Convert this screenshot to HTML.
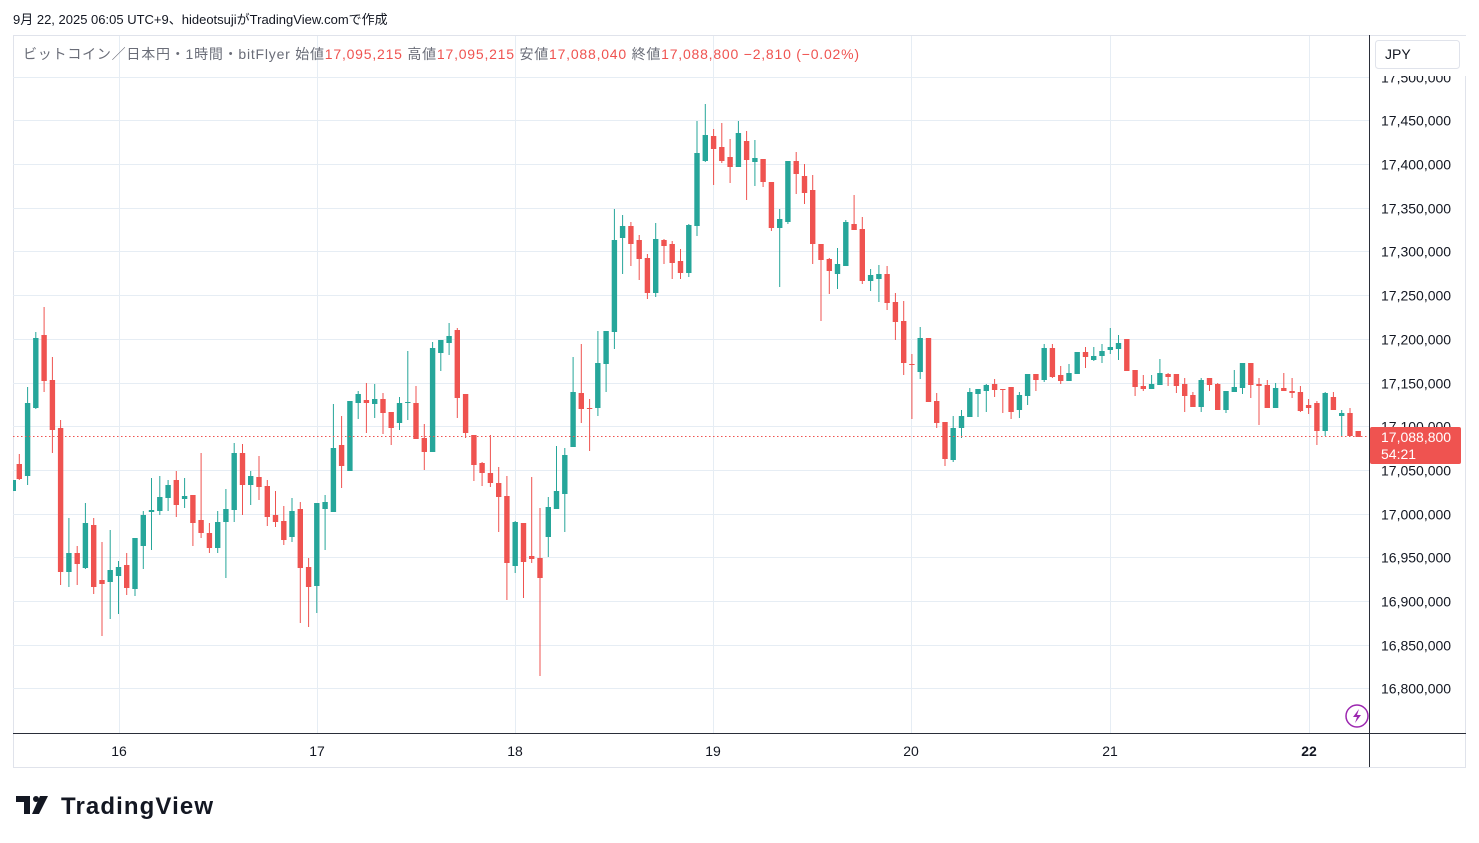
<!DOCTYPE html>
<html><head><meta charset="utf-8"><style>
body{margin:0;background:#fff;width:1479px;height:843px;overflow:hidden;font-family:"Liberation Sans","Noto Sans CJK JP",sans-serif;}
</style></head><body>
<svg id="s" width="1479" height="843" xmlns="http://www.w3.org/2000/svg" style="position:absolute;left:0;top:0">
<text x="13" y="24" font-size="13" fill="#131722" font-family="Liberation Sans, Noto Sans CJK JP, sans-serif">9月 22, 2025 06:05 UTC+9、hideotsujiがTradingView.comで作成</text>
<rect x="13.5" y="35.5" width="1452" height="732" fill="none" stroke="#e0e3eb"/>
<g id="grid" stroke="#e6edf4" stroke-width="1"></g>
<defs><clipPath id="cp"><rect x="13" y="36" width="1356" height="697"/></clipPath></defs>
<g id="c" clip-path="url(#cp)"></g>
<line x1="13" y1="436.5" x2="1369" y2="436.5" stroke="#ef5350" stroke-dasharray="1.5,2.5"/>
<line x1="1369.5" y1="35" x2="1369.5" y2="767" stroke="#2a2e39"/>
<line x1="13" y1="733.5" x2="1466" y2="733.5" stroke="#2a2e39"/>
<g id="pl" font-size="14" fill="#131722"></g>
<g font-size="14" fill="#131722" text-anchor="middle">
<text x="119" y="756">16</text><text x="317" y="756">17</text><text x="515" y="756">18</text><text x="713" y="756">19</text><text x="911" y="756">20</text><text x="1110" y="756">21</text><text x="1309" y="756" font-weight="bold">22</text>
</g>
<rect x="1370" y="36" width="96" height="40" fill="#fff"/>
<rect x="1375.5" y="40.5" width="84" height="28" rx="3" fill="#fff" stroke="#e0e3eb"/>
<text x="1385" y="59" font-size="14" fill="#131722">JPY</text>
<rect x="1370" y="427" width="91" height="37" rx="2" fill="#ef5350"/>
<text x="1381" y="442" font-size="14" fill="#fff">17,088,800</text>
<text x="1381" y="459" font-size="14" fill="#fff">54:21</text>
<circle cx="1357" cy="716" r="11" fill="#fff" stroke="#9c27b0" stroke-width="1.5"/>
<path d="M1359 709 L1353 717 L1357 717 L1355 723 L1361 715 L1357 715 Z" fill="#9c27b0"/>
<text x="23" y="59" font-size="14" textLength="836" lengthAdjust="spacing" font-family="Liberation Sans, Noto Sans CJK JP, sans-serif"><tspan fill="#6a6d78">ビットコイン／日本円・1時間・bitFlyer </tspan><tspan fill="#6a6d78"> 始値</tspan><tspan fill="#ef5350">17,095,215</tspan><tspan fill="#6a6d78">  高値</tspan><tspan fill="#ef5350">17,095,215</tspan><tspan fill="#6a6d78">  安値</tspan><tspan fill="#ef5350">17,088,040</tspan><tspan fill="#6a6d78">  終値</tspan><tspan fill="#ef5350">17,088,800  −2,810 (−0.02%)</tspan></text>
<g fill="#131722">
<path d="M16 796 h14 v18 h-6 v-12 h-8 z"/><circle cx="36" cy="799" r="3"/><path d="M40 796 h8 l-9 18 h-7 z"/>
</g>
<text x="61" y="814" font-size="24" textLength="152" font-weight="bold" fill="#131722">TradingView</text>
</svg>
<script>
var ns="http://www.w3.org/2000/svg";
function el(p,t,a){var e=document.createElementNS(ns,t);for(var k in a)e.setAttribute(k,a[k]);p.appendChild(e);return e;}
var g=document.getElementById('grid'),pl=document.getElementById('pl');
var labels=["17,500,000","17,450,000","17,400,000","17,350,000","17,300,000","17,250,000","17,200,000","17,150,000","17,100,000","17,050,000","17,000,000","16,950,000","16,900,000","16,850,000","16,800,000"];
for(var i=0;i<15;i++){var y=Math.round(76.6+i*43.7)+0.5;el(g,'line',{x1:13,x2:1369,y1:y,y2:y});var t=el(pl,'text',{x:1381,y:y+5});t.textContent=labels[i];}
[119,317,515,713,911,1110,1309].forEach(function(x){el(g,'line',{x1:x+0.5,x2:x+0.5,y1:36,y2:733});});
var D=[[464,479,454,480],[476,403,387,485],[408,338,332,409],[335,381,307,392],[380,430,357,453],[428,572,420,585],[572,553,518,587],[553,564,546,585],[568,523,503,569],[525,587,518,594],
[580,584,542,636],[582,570,530,619],[576,567,561,614],[565,588,553,595],[589,538,538,596],[546,515,511,569],[512,510,478,550],[511,497,476,515],[498,485,480,511],[480,505,471,517],
[499,496,478,508],[495,523,495,546],[520,533,453,538],[533,548,523,553],[548,522,511,553],[522,509,489,578],[510,453,443,522],[453,485,444,515],[485,476,471,505],[477,487,456,500],
[486,517,480,526],[515,522,491,527],[521,540,506,545],[537,511,498,542],[509,568,502,623],[567,587,558,627],[586,503,503,613],[509,502,495,550],[512,448,404,512],[445,466,416,488],
[471,401,401,471],[403,394,391,419],[400,403,383,433],[404,399,384,418],[399,413,393,434],[412,428,412,445],[423,403,397,430],[403,402,351,420],[403,439,386,439],[438,452,424,470],
[452,348,342,452],[353,340,340,371],[343,336,323,355],[330,398,328,418],[394,433,394,438],[435,465,435,481],[463,473,462,486],[473,483,435,487],[483,497,467,532],[496,563,476,600],
[566,522,521,573],[523,562,523,598],[556,559,477,563],[558,578,508,676],[537,507,497,557],[509,491,446,509],[494,455,448,532],[447,392,357,447],[393,409,344,423],[408,409,399,451],
[408,363,331,416],[364,331,331,392],[332,240,209,349],[238,226,215,274],[226,244,222,266],[240,259,235,280],[258,293,254,299],[293,239,223,297],[240,246,239,264],[244,263,241,279],
[261,273,249,279],[273,225,224,277],[226,153,121,236],[161,135,104,162],[136,149,129,185],[147,161,123,163],[157,167,139,183],[167,133,121,167],[141,160,131,200],[162,158,140,186],
[159,182,159,187],[182,228,182,231],[228,219,209,287],[222,161,161,224],[161,174,152,194],[176,193,164,204],[190,244,175,264],[244,260,244,321],[259,271,258,294],[274,264,248,289],
[266,222,220,266],[224,230,195,230],[229,281,217,284],[281,275,269,291],[279,274,265,302],[274,303,266,310],[302,322,293,340],[321,363,301,375],[364,364,354,419],[372,338,327,379],
[338,402,338,402],[401,423,393,428],[422,459,422,466],[460,428,416,462],[428,416,410,438],[417,392,388,417],[394,389,389,417],[391,385,384,412],[384,390,379,397],[389,389,389,413],
[387,412,387,419],[410,395,392,418],[396,374,374,405],[374,380,374,391],[380,348,344,382],[348,377,344,378],[375,381,366,384],[381,373,364,381],[374,352,352,374],[352,357,347,368],
[360,356,347,361],[356,351,344,363],[350,347,328,354],[349,343,335,360],[339,371,339,371],[370,387,370,396],[386,389,375,391],[389,384,375,389],[385,373,359,385],[374,377,373,386],
[374,386,374,393],[384,396,378,412],[395,407,392,407],[407,380,378,412],[378,385,378,391],[384,410,383,410],[410,391,391,413],[392,387,370,392],[388,363,363,394],[363,385,363,398],
[384,386,378,425],[385,408,380,408],[408,388,383,408],[388,391,373,391],[391,393,378,398],[392,411,386,412],[405,408,399,414],[403,431,401,445],[431,393,392,436],[397,410,392,410],
[416,413,410,436],[413,436,408,436],[431,437,431,437]];
var c=document.getElementById('c');
el(c,'rect',{x:11,y:480,width:5,height:11,fill:'#26a69a'});
for(var i=0;i<D.length;i++){var d=D[i],x=19.3+i*8.265,up=d[1]<d[0],col=up?'#26a69a':'#ef5350';
var bt=Math.min(d[0],d[1]),bh=Math.max(1,Math.abs(d[0]-d[1]));
el(c,'rect',{x:(x-0.5).toFixed(1),y:d[2],width:1,height:Math.max(1,d[3]-d[2]),fill:col});
el(c,'rect',{x:(x-2.7).toFixed(1),y:bt,width:5.4,height:bh,fill:col});}
</script>
</body></html>
